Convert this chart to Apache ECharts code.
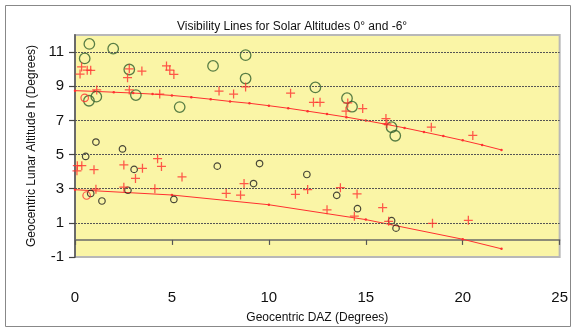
<!DOCTYPE html>
<html>
<head>
<meta charset="utf-8">
<title>Visibility Lines</title>
<script src="https://cdn.jsdelivr.net/npm/echarts@6/dist/echarts.min.js"></script>
<style>
  html, body { margin: 0; padding: 0; background: #ffffff; }
  #chart { width: 571px; height: 329px; }
</style>
</head>
<body>
<div id="chart"></div>
<script>
// Visibility line for solar altitude 0° (DAZ, h)
const line0 = [
  [0, 8.74], [1, 8.70], [2, 8.65], [3, 8.60], [4, 8.54], [5, 8.46],
  [6, 8.36], [7, 8.24], [8, 8.11], [9, 8.00], [10, 7.86], [11, 7.71],
  [12, 7.54], [13, 7.37], [14, 7.19], [15, 6.99], [16, 6.78], [17, 6.56],
  [18, 6.32], [19, 6.08], [20, 5.83], [21, 5.56], [22, 5.27]
];
// Visibility line for solar altitude -6°
const line6 = [
  [0, 2.94], [5, 2.63], [10, 2.06], [15, 1.19], [20, 0.04], [22, -0.52]
];
// Observations
const greenCircles = [
  [0.74, 11.48], [1.97, 11.2], [0.5, 10.63], [2.8, 9.98], [7.12, 10.19],
  [0.72, 8.15], [1.1, 8.39], [3.14, 8.48], [5.4, 7.78], [8.8, 10.82],
  [8.8, 9.45], [12.4, 8.93], [14.03, 8.3], [14.29, 7.8], [16.33, 6.6],
  [16.52, 6.1]
];
const blackCircles = [
  [0.55, 4.89], [1.08, 5.73], [2.45, 5.33], [3.05, 4.13], [7.34, 4.32],
  [0.81, 2.72], [2.73, 2.91], [1.39, 2.28], [5.1, 2.37], [9.52, 4.47],
  [9.21, 3.3], [11.96, 3.83], [13.5, 2.61], [14.57, 1.83], [16.33, 1.13],
  [16.56, 0.69]
];
const redCircles = [
  [0.5, 8.32], [0.6, 2.6]
];
const crosses = [
  [0.34, 10.13], [0.63, 9.94], [0.81, 9.93], [0.26, 9.71], [2.8, 10.02],
  [2.71, 9.5], [3.45, 9.89], [4.72, 10.19], [4.89, 9.95], [5.1, 9.69],
  [2.8, 8.78], [1.12, 8.78], [4.37, 8.54], [7.43, 8.72], [8.18, 8.54],
  [8.8, 8.96], [11.12, 8.59], [12.3, 8.06], [12.64, 8.06], [14.07, 8.02],
  [13.98, 7.54], [14.84, 7.69], [16.04, 7.11], [16.09, 6.8], [18.38, 6.6],
  [20.52, 6.12],
  [0.12, 4.35], [0.35, 4.35], [0.1, 4.05], [0.98, 4.11], [4.26, 4.76],
  [4.46, 4.3], [2.52, 4.39], [3.48, 4.19], [3.12, 3.6], [5.52, 3.69],
  [1.08, 2.97], [2.52, 3.09], [4.12, 3.0], [7.8, 2.72], [8.54, 2.63],
  [8.72, 3.3], [11.37, 2.67], [12.0, 2.95], [13.69, 3.06], [14.55, 2.69],
  [13.0, 1.76], [14.41, 1.39], [15.87, 1.89], [16.18, 1.09], [18.44, 0.97],
  [20.29, 1.15]
];
// Axis ticks
const yTickValues = [-1, 1, 3, 5, 7, 9, 11];
const yGridValues = [1, 3, 5, 7, 9, 11];
const xTickLabels = [0, 5, 10, 15, 20, 25];

const RED = '#ff3030';
const FONT = 'Liberation Sans, Arial, sans-serif';
const PLUS = 'path://M0,4.3H10V5.7H0Z M4.3,0H5.7V10H4.3Z';

const chart = echarts.init(document.getElementById('chart'), null, { renderer: 'canvas' });

chart.setOption({
  animation: false,
  backgroundColor: '#ffffff',
  textStyle: { fontFamily: FONT },
  title: {
    text: 'Visibility Lines for Solar Altitudes 0° and -6°',
    left: 172,
    top: 16,
    textStyle: { fontSize: 12, fontWeight: 'normal', color: '#111', fontFamily: FONT }
  },
  graphic: [{
    type: 'rect',
    shape: { x: 5.5, y: 5.5, width: 565, height: 321 },
    style: { fill: 'none', stroke: '#888', lineWidth: 1 },
    silent: true,
    z: -1
  }],
  grid: {
    left: 75, top: 35, width: 486, height: 234,
    show: true,
    backgroundColor: '#faf5a6',
    borderColor: '#b8b8b8',
    borderWidth: 2
  },
  xAxis: {
    type: 'value',
    min: 0, max: 25, interval: 5,
    axisLine: { show: true, onZero: true, lineStyle: { color: '#6a6a6a', width: 1.5 } },
    axisTick: { show: true, length: 5, lineStyle: { color: '#555', width: 1.2 } },
    axisLabel: {
      margin: 33, fontSize: 15, color: '#111', fontFamily: FONT,
      customValues: xTickLabels
    },
    splitLine: { show: false },
    name: 'Geocentric DAZ (Degrees)',
    nameLocation: 'middle',
    nameGap: 55,
    nameTextStyle: { fontSize: 12, color: '#111', fontFamily: FONT }
  },
  yAxis: {
    type: 'value',
    min: -1, max: 12,
    axisLine: { show: true, lineStyle: { color: '#6a6a6a', width: 2 } },
    axisTick: { show: true, length: 6, customValues: yTickValues, lineStyle: { color: '#444', width: 1.2 } },
    axisLabel: {
      margin: 11, fontSize: 15, color: '#111', fontFamily: FONT,
      customValues: yTickValues
    },
    splitLine: { show: false },
    name: 'Geocentric Lunar Altitude h (Degrees)',
    nameLocation: 'middle',
    nameGap: 30,
    nameTextStyle: { fontSize: 12, color: '#111', fontFamily: FONT }
  },
  series: [
    {
      name: 'grid',
      type: 'line',
      data: [],
      silent: true,
      markLine: {
        silent: true,
        symbol: ['none', 'none'],
        label: { show: false },
        lineStyle: { color: '#555', type: [2, 1], width: 1 },
        data: yGridValues.map(v => ({ yAxis: v }))
      },
      z: 1
    },
    {
      name: 'Solar altitude 0°',
      type: 'line',
      data: line0,
      symbol: 'circle',
      symbolSize: 2.5,
      showSymbol: true,
      lineStyle: { color: RED, width: 1 },
      itemStyle: { color: RED },
      z: 3
    },
    {
      name: 'Solar altitude -6°',
      type: 'line',
      data: line6,
      symbol: 'circle',
      symbolSize: 2.5,
      showSymbol: true,
      lineStyle: { color: RED, width: 1 },
      itemStyle: { color: RED },
      z: 3
    },
    {
      name: 'Green',
      type: 'scatter',
      data: greenCircles,
      symbol: 'circle',
      symbolSize: 10.5,
      itemStyle: { color: 'rgba(0,0,0,0)', borderColor: '#2f5f2c', borderWidth: 1.3 },
      z: 4
    },
    {
      name: 'Black',
      type: 'scatter',
      data: blackCircles,
      symbol: 'circle',
      symbolSize: 6.5,
      itemStyle: { color: 'rgba(0,0,0,0)', borderColor: '#1a1a1a', borderWidth: 1.2 },
      z: 4
    },
    {
      name: 'Red',
      type: 'scatter',
      data: redCircles,
      symbol: 'circle',
      symbolSize: 7.5,
      itemStyle: { color: 'rgba(0,0,0,0)', borderColor: RED, borderWidth: 1.2 },
      z: 4
    },
    {
      name: 'Crosses',
      type: 'scatter',
      data: crosses,
      symbol: PLUS,
      symbolSize: 9,
      itemStyle: { color: RED },
      z: 5
    }
  ]
});
</script>
</body>
</html>
